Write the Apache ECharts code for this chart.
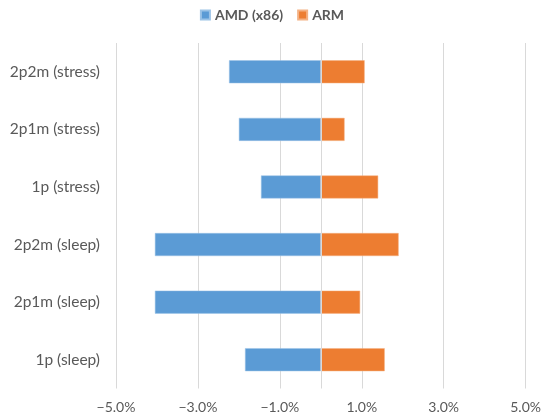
<!DOCTYPE html>
<html>
<head>
<meta charset="utf-8">
<script src="https://cdn.jsdelivr.net/npm/echarts@6/dist/echarts.min.js"></script>
<style>
  html, body { margin: 0; padding: 0; background: #fff; }
  #chart { width: 544px; height: 420px; }
</style>
</head>
<body>
<div id="chart"></div>
<script>
// Scenario labels, listed top to bottom
const categories = ['2p2m (stress)', '2p1m (stress)', '1p (stress)', '2p2m (sleep)', '2p1m (sleep)', '1p (sleep)'];
// Relative change in percent per architecture
const amdValues = [-2.24, -2.0, -1.46, -4.05, -4.05, -1.85];
const armValues = [1.07, 0.58, 1.40, 1.90, 0.96, 1.56];
const seriesNames = ['AMD (x86)', 'ARM'];
// Axis range and tick step in percent
const axisMin = -5, axisMax = 5, axisStep = 2;

const FONT = 'Lato, "Open Sans", sans-serif';
const TEXT = '#595959';
const GRID = '#d9d9d9';

const chart = echarts.init(document.getElementById('chart'));
chart.setOption({
  animation: false,
  textStyle: { fontFamily: FONT },
  legend: {
    top: 3,
    left: 'center',
    itemWidth: 9,
    itemHeight: 9,
    itemGap: 14,
    icon: 'rect',
    textStyle: { fontFamily: FONT, fontSize: 14, fontWeight: 'bold', color: TEXT },
    data: seriesNames
  },
  grid: { left: 116, right: 18, top: 43, bottom: 31.5 },
  xAxis: {
    type: 'value',
    min: axisMin,
    max: axisMax,
    interval: axisStep,
    axisLine: { show: false },
    axisTick: { show: false },
    splitLine: { show: true, lineStyle: { color: GRID, width: 1 } },
    axisLabel: {
      color: TEXT,
      fontSize: 14,
      margin: 12,
      fontFamily: FONT,
      formatter: v => (v < 0 ? '\u2212' : '') + Math.abs(v).toFixed(1) + '%'
    }
  },
  yAxis: {
    type: 'category',
    data: categories,
    inverse: true,
    axisLine: { show: false },
    axisTick: { show: false },
    axisLabel: { color: TEXT, fontSize: 15.5, margin: 16, fontFamily: FONT }
  },
  series: [
    {
      name: seriesNames[0],
      type: 'bar',
      data: amdValues,
      barWidth: 23,
      barGap: '-100%',
      itemStyle: { color: '#5B9BD5', borderColor: '#9cc3e6', borderWidth: 0.5 },
      markLine: {
        silent: true,
        symbol: 'none',
        label: { show: false },
        lineStyle: { color: GRID, width: 1, type: 'solid' },
        data: [{ xAxis: 0 }]
      }
    },
    {
      name: seriesNames[1],
      type: 'bar',
      data: armValues,
      barWidth: 23,
      barGap: '-100%',
      itemStyle: { color: '#ED7D31', borderColor: '#f4b183', borderWidth: 0.5 }
    }
  ]
});
</script>
</body>
</html>
